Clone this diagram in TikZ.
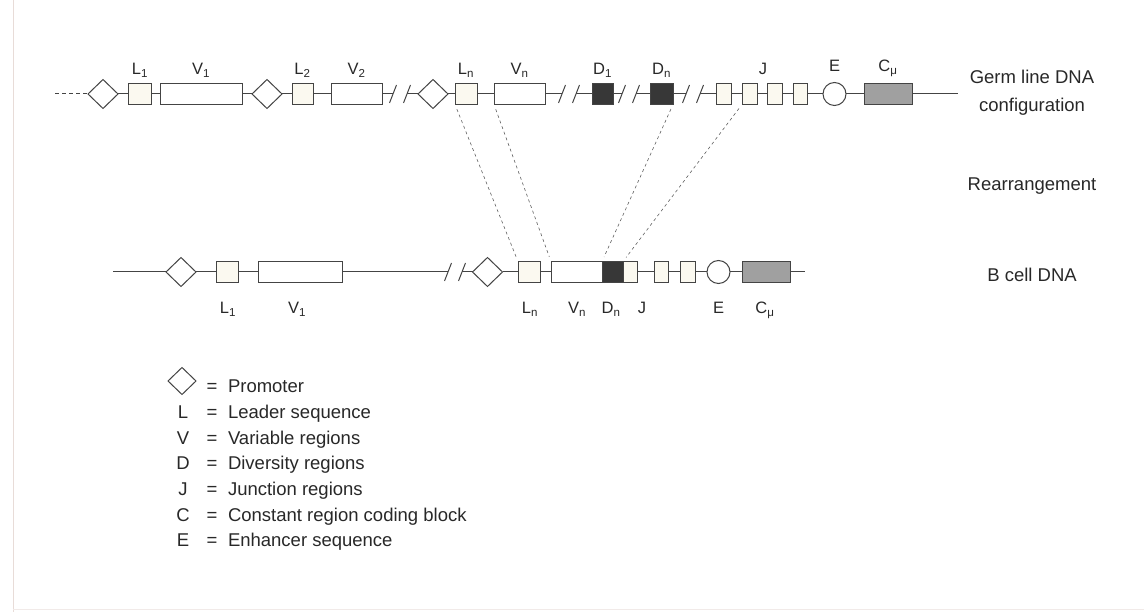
\documentclass[tikz,border=0pt]{standalone}
\usepackage{fontspec}
\setmainfont{Liberation Sans}
\usetikzlibrary{shapes.geometric}
\definecolor{ink}{RGB}{68,68,68}
\definecolor{txt}{RGB}{40,40,40}
\definecolor{cream}{RGB}{251,249,240}
\definecolor{darkfill}{RGB}{55,55,55}
\definecolor{stip}{RGB}{160,160,160}
\definecolor{edgec}{RGB}{232,220,216}
\newcommand\slashat[1]{\draw[cut] ([shift={(-3.5,9)}]#1) -- ([shift={(3.5,-9)}]#1);}
\begin{document}
\begin{tikzpicture}[x=1pt,y=-1pt,
  every node/.style={inner sep=0pt, outer sep=0pt},
  dna/.style={draw=ink, line width=1pt},
  prom/.style={diamond, draw=ink, line width=1pt, fill=white, minimum width=30pt, minimum height=29pt},
  lbox/.style={draw=ink, line width=1pt, fill=cream, minimum width=23pt, minimum height=21pt},
  vbox/.style={draw=ink, line width=1pt, fill=white, minimum height=21pt},
  dbox/.style={draw=ink, line width=1pt, fill=darkfill, minimum width=21pt, minimum height=21pt},
  jbox/.style={draw=ink, line width=1pt, fill=cream, minimum width=14pt, minimum height=21pt},
  enh/.style={circle, draw=ink, line width=1pt, fill=white, minimum size=23pt},
  cbox/.style={draw=ink, line width=1pt, fill=stip, minimum width=48pt, minimum height=21pt},
  glab/.style={anchor=base, text=txt, font=\fontsize{16.5}{19}\selectfont},
  big/.style={anchor=base, text=txt, font=\fontsize{18.5}{22}\selectfont},
  cut/.style={draw=ink, line width=1pt},
  link/.style={draw=ink!85, line width=0.6pt, dash pattern=on 3pt off 3pt, shorten <=5pt, shorten >=5pt},
  lead/.style={draw=ink, line width=1pt, dash pattern=on 4pt off 3pt}
]
\useasboundingbox (0,0) rectangle (1144,612);
\draw[edgec, line width=1pt] (13,0) -- (13,612);
\draw[edgec!60, line width=1pt] (13,609) -- (1144,609);

% ---------- germ line row ----------
\coordinate (s0) at (55,94);
\node[prom] (pa1) at (103,94) {};
\node[lbox] (La1) at (139.5,94) {};
\node[vbox, minimum width=82pt] (Va1) at (201,94) {};
\node[prom] (pa2) at (267,94) {};
\node[lbox, minimum width=21pt] (La2) at (302.5,94) {};
\node[vbox, minimum width=51pt] (Va2) at (356.5,94) {};
\coordinate (ba1) at (393,94); \coordinate (bb1) at (407,94);
\node[prom] (pa3) at (433,94) {};
\node[lbox, minimum width=22pt] (Lan) at (466,94) {};
\node[vbox, minimum width=51pt] (Van) at (519.5,94) {};
\coordinate (ba2) at (562,94); \coordinate (bb2) at (576,94);
\node[dbox] (Da1) at (602.5,94) {};
\coordinate (ba3) at (622,94); \coordinate (bb3) at (636,94);
\node[dbox, minimum width=23pt] (Dan) at (661.5,94) {};
\coordinate (ba4) at (686,94); \coordinate (bb4) at (700,94);
\node[jbox, minimum width=15pt] (Ja1) at (723.5,94) {};
\node[jbox, minimum width=15pt] (Ja2) at (749.5,94) {};
\node[jbox, minimum width=15pt] (Ja3) at (774.5,94) {};
\node[jbox] (Ja4) at (800.5,94) {};
\node[enh] (Ea) at (834.5,94) {};
\node[cbox] (Ca) at (888,94) {};
\coordinate (ea) at (958,94);

\draw[lead] (s0) -- (pa1);
\draw[dna] (pa1) -- (La1) (La1) -- (Va1) (Va1) -- (pa2) (pa2) -- (La2) (La2) -- (Va2)
  (Va2) -- (ba1) (bb1) -- (pa3) (pa3) -- (Lan) (Lan) -- (Van) (Van) -- (ba2)
  (bb2) -- (Da1) (Da1) -- (ba3) (bb3) -- (Dan) (Dan) -- (ba4) (bb4) -- (Ja1)
  (Ja1) -- (Ja2) (Ja2) -- (Ja3) (Ja3) -- (Ja4) (Ja4) -- (Ea) (Ea) -- (Ca) (Ca) -- (ea);
\slashat{ba1}\slashat{bb1}\slashat{ba2}\slashat{bb2}
\slashat{ba3}\slashat{bb3}\slashat{ba4}\slashat{bb4}

\node[glab] (tL1) at (140,75) {L\textsubscript{1}};
\node[glab] (tV1) at (201,75) {V\textsubscript{1}};
\node[glab] (tL2) at (302.5,75) {L\textsubscript{2}};
\node[glab] (tV2) at (356.5,75) {V\textsubscript{2}};
\node[glab] (tLn) at (466,75) {L\textsubscript{n}};
\node[glab] (tVn) at (519.5,75) {V\textsubscript{n}};
\node[glab] (tD1) at (602.5,75) {D\textsubscript{1}};
\node[glab] (tDn) at (661.5,75) {D\textsubscript{n}};
\node[glab] (tJ) at (763,75) {J};
\node[glab] (tE) at (834.5,72) {E};
\node[glab] (tC) at (888,72) {C\textsubscript{μ}};

% ---------- B cell row ----------
\coordinate (sb) at (113,272);
\node[prom] (pb1) at (181,272) {};
\node[lbox, minimum width=22pt] (Lb1) at (227,272) {};
\node[vbox, minimum width=84pt] (Vb1) at (300,272) {};
\coordinate (ba5) at (448,272); \coordinate (bb5) at (462,272);
\node[prom] (pb2) at (487.5,272) {};
\node[lbox, minimum width=22pt] (Lbn) at (529,272) {};
\node[vbox, minimum width=51pt] (Vbn) at (576.5,272) {};
\node[dbox, anchor=west] (Dbn) at (Vbn.east) {};
\node[jbox, anchor=west] (Jb0) at (Dbn.east) {};
\node[jbox] (Jb1) at (661,272) {};
\node[jbox, minimum width=15pt] (Jb2) at (687.5,272) {};
\node[enh] (Eb) at (718.5,272) {};
\node[cbox] (Cb) at (766,272) {};
\coordinate (eb) at (805,272);

\draw[dna] (sb) -- (pb1) (pb1) -- (Lb1) (Lb1) -- (Vb1) (Vb1) -- (ba5) (bb5) -- (pb2)
  (pb2) -- (Lbn) (Lbn) -- (Vbn) (Jb0) -- (Jb1) (Jb1) -- (Jb2) (Jb2) -- (Eb)
  (Eb) -- (Cb) (Cb) -- (eb);
\slashat{ba5}\slashat{bb5}

\node[glab] (bL1) at (228,314) {L\textsubscript{1}};
\node[glab] (bV1) at (297,314) {V\textsubscript{1}};
\node[glab] (bLn) at (530,314) {L\textsubscript{n}};
\node[glab] (bVn) at (577,314) {V\textsubscript{n}};
\node[glab] (bDn) at (611,314) {D\textsubscript{n}};
\node[glab] (bJ) at (642,314) {J};
\node[glab] (bE) at (718.5,314) {E};
\node[glab] (bC) at (765,314) {C\textsubscript{μ}};

% ---------- rearrangement links ----------
\draw[link] (Lan.south west) -- (Lbn.north west);
\draw[link] (Van.south west) -- (Vbn.north west);
\draw[link] (Dan.south east) -- (Dbn.north west);
\draw[link] (Ja2.south west) -- (Jb0.north west);

% ---------- right-hand captions ----------
\node[big] (g1) at (1032,83.5) {Germ line DNA};
\node[big] (g2) at (1032,111.5) {configuration};
\node[big] (re) at (1032,190.7) {Rearrangement};
\node[big] (bc) at (1032,281.7) {B cell DNA};

% ---------- legend ----------
\node[prom, minimum width=28pt, minimum height=27pt] (kp) at (182,381) {};
\foreach \i/\k/\t in {0//Promoter,1/L/Leader sequence,2/V/Variable regions,3/D/Diversity regions,4/J/Junction regions,5/C/Constant region coding block,6/E/Enhancer sequence}{
  \node[big] (kl\i) at (183,392.7+25.67*\i) {\k};
  \node[big] (ke\i) at (212,392.7+25.67*\i) {=};
  \node[big, anchor=base west] (kt\i) at (228,392.7+25.67*\i) {\t};
}
\end{tikzpicture}
\end{document}
